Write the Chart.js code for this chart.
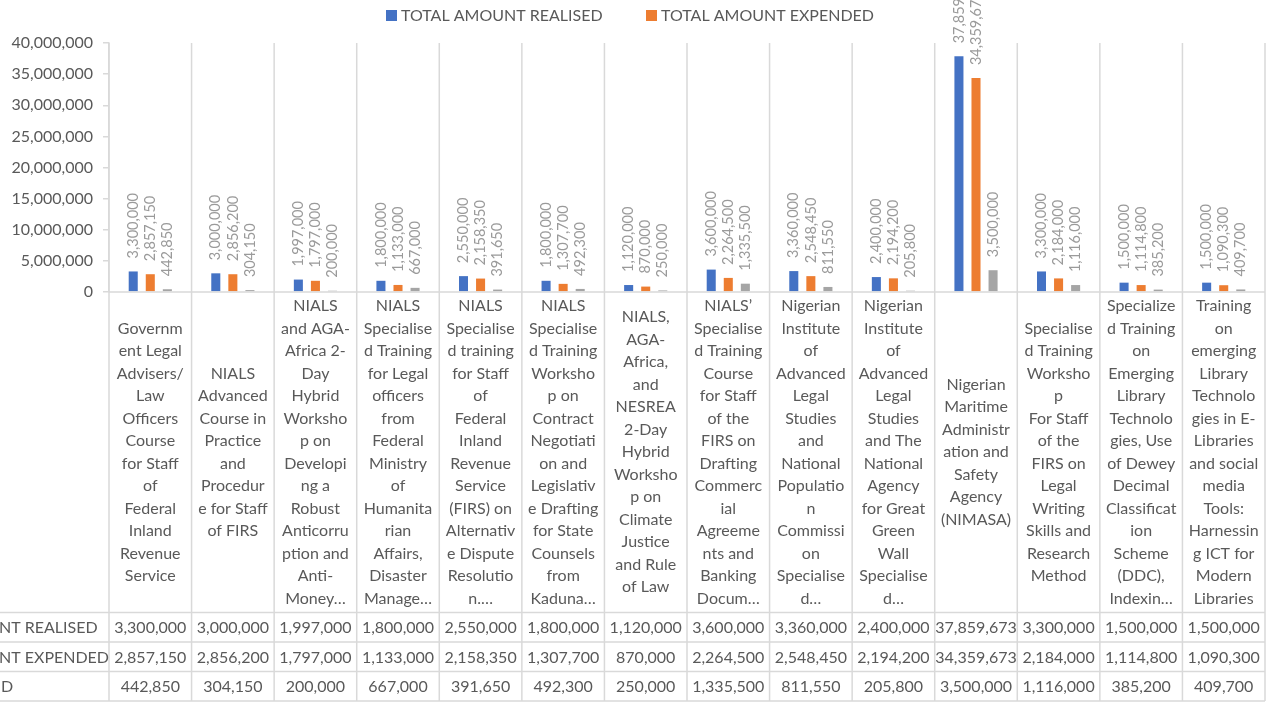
<!DOCTYPE html>
<html>
<head>
<meta charset="utf-8">
<title>Training programmes - amounts realised and expended</title>
<script src="https://cdn.jsdelivr.net/npm/chart.js@4.4.1/dist/chart.umd.min.js"></script>
<style>
  html, body { margin: 0; padding: 0; background: #ffffff; }
  #wrap { width: 1274px; height: 704px; overflow: hidden; }
</style>
</head>
<body>
<div id="wrap"><canvas id="training-chart" width="1274" height="704"></canvas></div>
<script>
// Series names (the third one is cut off in the legend of the source)
const seriesNames = ['TOTAL AMOUNT REALISED', 'TOTAL AMOUNT EXPENDED', 'TOTAL REFUND'];
const seriesColors = ['#4472C4', '#ED7D31', '#A5A5A5'];

// Values per programme
const realised = [3300000, 3000000, 1997000, 1800000, 2550000, 1800000, 1120000, 3600000, 3360000, 2400000, 37859673, 3300000, 1500000, 1500000];
const expended = [2857150, 2856200, 1797000, 1133000, 2158350, 1307700, 870000, 2264500, 2548450, 2194200, 34359673, 2184000, 1114800, 1090300];
const refund = [442850, 304150, 200000, 667000, 391650, 492300, 250000, 1335500, 811550, 205800, 3500000, 1116000, 385200, 409700];

// Category labels, wrapped the way the spreadsheet wraps them
const categoryLines = [
  ['Governm', 'ent Legal', 'Advisers/', 'Law', 'Officers', 'Course', 'for Staff', 'of', 'Federal', 'Inland', 'Revenue', 'Service'],
  ['NIALS', 'Advanced', 'Course in', 'Practice', 'and', 'Procedur', 'e for Staff', 'of FIRS'],
  ['NIALS', 'and AGA-', 'Africa 2-', 'Day', 'Hybrid', 'Worksho', 'p on', 'Developi', 'ng a', 'Robust', 'Anticorru', 'ption and', 'Anti-', 'Money…'],
  ['NIALS', 'Specialise', 'd Training', 'for Legal', 'officers', 'from', 'Federal', 'Ministry', 'of', 'Humanita', 'rian', 'Affairs,', 'Disaster', 'Manage…'],
  ['NIALS', 'Specialise', 'd training', 'for Staff', 'of', 'Federal', 'Inland', 'Revenue', 'Service', '(FIRS) on', 'Alternativ', 'e Dispute', 'Resolutio', 'n.…'],
  ['NIALS', 'Specialise', 'd Training', 'Worksho', 'p on', 'Contract', 'Negotiati', 'on and', 'Legislativ', 'e Drafting', 'for State', 'Counsels', 'from', 'Kaduna…'],
  ['NIALS,', 'AGA-', 'Africa,', 'and', 'NESREA', '2-Day', 'Hybrid', 'Worksho', 'p on', 'Climate', 'Justice', 'and Rule', 'of Law'],
  ['NIALS’', 'Specialise', 'd Training', 'Course', 'for Staff', 'of the', 'FIRS on', 'Drafting', 'Commerc', 'ial', 'Agreeme', 'nts and', 'Banking', 'Docum…'],
  ['Nigerian', 'Institute', 'of', 'Advanced', 'Legal', 'Studies', 'and', 'National', 'Populatio', 'n', 'Commissi', 'on', 'Specialise', 'd…'],
  ['Nigerian', 'Institute', 'of', 'Advanced', 'Legal', 'Studies', 'and The', 'National', 'Agency', 'for Great', 'Green', 'Wall', 'Specialise', 'd…'],
  ['Nigerian', 'Maritime', 'Administr', 'ation and', 'Safety', 'Agency', '(NIMASA)'],
  ['Specialise', 'd Training', 'Worksho', 'p', 'For Staff', 'of the', 'FIRS on', 'Legal', 'Writing', 'Skills and', 'Research', 'Method'],
  ['Specialize', 'd Training', 'on', 'Emerging', 'Library', 'Technolo', 'gies, Use', 'of Dewey', 'Decimal', 'Classificat', 'ion', 'Scheme', '(DDC),', 'Indexin…'],
  ['Training', 'on', 'emerging', 'Library', 'Technolo', 'gies in E-', 'Libraries', 'and social', 'media', 'Tools:', 'Harnessin', 'g ICT for', 'Modern', 'Libraries']
];

// Value axis
const yMax = 40000000;
const yStep = 5000000;

const FONT = 'Lato, "Open Sans", sans-serif';
const TEXT = '#595959';
const LINE = '#d9d9d9';

const fmt = v => Number(v).toLocaleString('en-US');

/**
 * Category boundaries taken from the x scale
 */
function categoryEdges(chart) {
  const x = chart.scales.x;
  const half = (x.getPixelForValue(1) - x.getPixelForValue(0)) / 2;
  const edges = [];
  for (let i = 0; i < categoryLines.length; i++) {
    edges.push(x.getPixelForValue(i) - half);
  }
  edges.push(x.getPixelForValue(categoryLines.length - 1) + half);
  return edges;
}

/**
 * Draws the category text band and the data table under the plot
 */
const dataTable = {
  id: 'dataTable',
  afterDraw(chart) {
    const { ctx, chartArea } = chart;
    const edges = categoryEdges(chart);
    const right = edges[edges.length - 1];
    const tableTop = 612.5;
    const rowH = 29.5;
    const bottom = tableTop + rowH * 3;
    const rows = [realised, expended, refund];

    ctx.save();
    ctx.strokeStyle = LINE;
    ctx.lineWidth = 1.5;

    // vertical lines through plot, label band and table
    edges.forEach(px => {
      ctx.beginPath();
      ctx.moveTo(px, chartArea.top);
      ctx.lineTo(px, bottom);
      ctx.stroke();
    });

    // x axis line
    ctx.beginPath();
    ctx.moveTo(chartArea.left, chartArea.bottom);
    ctx.lineTo(right, chartArea.bottom);
    ctx.stroke();

    // table row lines
    for (let r = 0; r <= 3; r++) {
      const y = tableTop + r * rowH;
      ctx.beginPath();
      ctx.moveTo(0, y);
      ctx.lineTo(right, y);
      ctx.stroke();
    }

    ctx.fillStyle = TEXT;
    ctx.font = '16px ' + FONT;
    ctx.textBaseline = 'middle';

    // category labels, centred in the band
    const bandMid = (chartArea.bottom + tableTop) / 2;
    const lineH = 22.5;
    ctx.textAlign = 'center';
    categoryLines.forEach((lines, i) => {
      const cx = (edges[i] + edges[i + 1]) / 2;
      const y0 = bandMid - (lines.length - 1) * lineH / 2;
      lines.forEach((t, k) => ctx.fillText(t, cx, y0 + k * lineH));
    });

    // table values
    rows.forEach((vals, r) => {
      const cy = tableTop + rowH * (r + 0.5) + 1;
      vals.forEach((v, i) => {
        ctx.fillText(fmt(v), (edges[i] + edges[i + 1]) / 2, cy);
      });
    });

    // row headers, left aligned and cut by the left edge of the picture
    ctx.textAlign = 'left';
    const x0 = -ctx.measureText('TOTAL AMOU').width - 1;
    seriesNames.forEach((name, r) => {
      ctx.fillText(name, x0, tableTop + rowH * (r + 0.5) + 1);
    });
    ctx.restore();
  }
};

/**
 * Rotated value labels above each bar
 */
const barLabels = {
  id: 'barLabels',
  afterDatasetsDraw(chart) {
    const { ctx } = chart;
    ctx.save();
    ctx.fillStyle = '#9a9a9a';
    ctx.font = '14.5px ' + FONT;
    ctx.textAlign = 'left';
    ctx.textBaseline = 'middle';
    chart.data.datasets.forEach((ds, d) => {
      chart.getDatasetMeta(d).data.forEach((bar, i) => {
        ctx.save();
        ctx.translate(bar.x, bar.y - 13);
        ctx.rotate(-Math.PI / 2);
        ctx.fillText(fmt(ds.data[i]), 0, 0);
        ctx.restore();
      });
    });
    ctx.restore();
  }
};

/**
 * Legend line at the top (only the two visible entries)
 */
const topLegend = {
  id: 'topLegend',
  afterDraw(chart) {
    const { ctx } = chart;
    const items = [
      { x: 386, name: seriesNames[0], color: seriesColors[0] },
      { x: 646, name: seriesNames[1], color: seriesColors[1] }
    ];
    ctx.save();
    ctx.font = '16px ' + FONT;
    ctx.textAlign = 'left';
    ctx.textBaseline = 'middle';
    items.forEach(it => {
      ctx.fillStyle = it.color;
      ctx.fillRect(it.x, 10, 11, 11);
      ctx.fillStyle = TEXT;
      ctx.fillText(it.name, it.x + 15, 16);
    });
    ctx.restore();
  }
};

const canvas = document.getElementById('training-chart');

new Chart(canvas, {
  type: 'bar',
  data: {
    labels: categoryLines.map(l => l.join(' ')),
    datasets: [
      { label: seriesNames[0], data: realised, backgroundColor: seriesColors[0] },
      { label: seriesNames[1], data: expended, backgroundColor: seriesColors[1] },
      { label: seriesNames[2], data: refund, backgroundColor: seriesColors[2] }
    ]
  },
  options: {
    responsive: false,
    animation: false,
    devicePixelRatio: 1,
    layout: { padding: { top: 43, right: 9, bottom: 412, left: 0 } },
    datasets: {
      bar: { categoryPercentage: 0.62, barPercentage: 0.53 }
    },
    plugins: {
      legend: { display: false },
      tooltip: { enabled: false }
    },
    scales: {
      x: { display: false },
      y: {
        min: 0,
        max: yMax,
        afterFit: scale => { scale.width = 109; },
        ticks: {
          stepSize: yStep,
          color: TEXT,
          padding: 10,
          font: { family: FONT, size: 16 },
          callback: v => fmt(v)
        },
        grid: {
          drawOnChartArea: false,
          drawTicks: true,
          tickLength: 6,
          color: LINE,
          lineWidth: 1.5
        },
        border: { display: true, color: LINE, width: 1.5 }
      }
    }
  },
  plugins: [dataTable, barLabels, topLegend]
});
</script>
</body>
</html>
